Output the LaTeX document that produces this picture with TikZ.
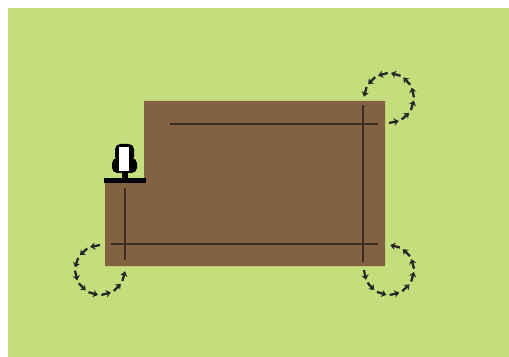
\documentclass[tikz,border=0pt]{standalone}
\usetikzlibrary{arrows.meta}
\definecolor{grass}{RGB}{196,221,125}
\definecolor{soil}{RGB}{131,98,66}
\definecolor{track}{RGB}{60,45,32}
\tikzset{
  pass/.style={track, line width=0.7pt},
  turnseg/.style={black!85, line width=1.3pt, -{Stealth[length=2.8pt,width=4.2pt]}},
}
\newcommand{\turnloop}[3]{%
  % centre x, centre y, first angle
  \foreach \i in {0,...,8}{
    \draw[turnseg] ({#1+25*cos(#3-\i*30.5)}, {#2+25*sin(#3-\i*30.5)})
      -- ({#1+25*cos(#3-\i*30.5-23)}, {#2+25*sin(#3-\i*30.5-23)});
  }
}
\begin{document}
\begin{tikzpicture}[x=0.02cm, y=-0.02cm]

  \useasboundingbox (0,0) rectangle (509,357);

  % Meadow
  \fill[grass] (8,8) rectangle (509,357);

  % Field
  \fill[soil] (144,101) -- (385,101) -- (385,266) -- (105,266) -- (105,181) -- (144,181) -- cycle;

  % Passes across the field
  \draw[pass] (170,124) -- (378,124);
  \draw[pass] (111,244) -- (378,244);
  \draw[pass] (363,105) -- (363,262);
  \draw[pass] (125,188) -- (125,260);

  % Turns at the corners
  \turnloop{100}{270}{-90}
  \turnloop{389}{98}{90}
  \turnloop{389}{270}{180}

  % Tractor with its implement
  \draw[black, line width=2.8pt] (104,180.5) -- (146,180.5);
  \draw[black, line width=3pt] (125,172) -- (125,180);
  \fill[black, rounded corners=3pt] (112,158) rectangle (137,173);
  \fill[black, rounded corners=3pt] (115,144) rectangle (134,162);
  \fill[white] (119,147) rectangle (129,171);

\end{tikzpicture}
\end{document}
